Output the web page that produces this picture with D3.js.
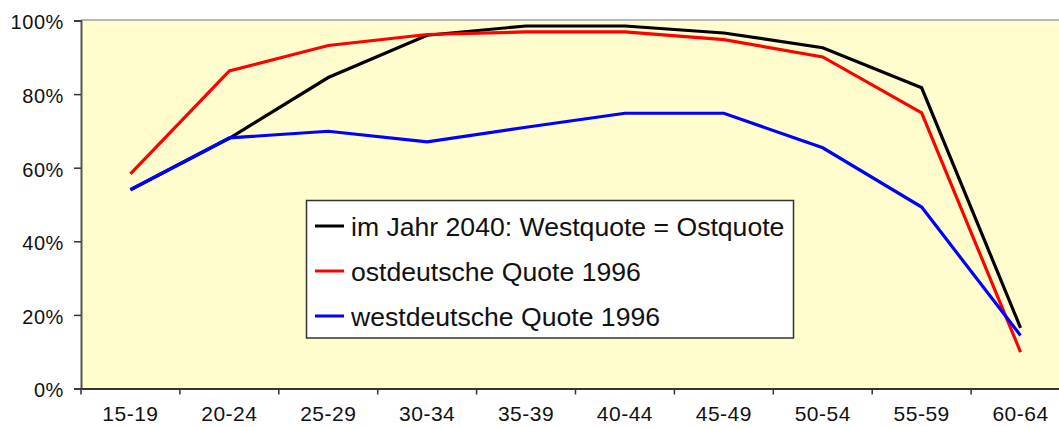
<!DOCTYPE html>
<html><head><meta charset="utf-8">
<script src="https://cdn.jsdelivr.net/npm/d3@7"></script>
<style>html,body{margin:0;padding:0;background:#fff;}svg{display:block;}</style>
</head><body>
<script>
const categories = ["15-19","20-24","25-29","30-34","35-39","40-44","45-49","50-54","55-59","60-64"];
const black2040 = [54, 68, 84.5, 96, 98.5, 98.5, 96.6, 92.6, 81.7, 16.5];
const ostQuote = [58.3, 86.3, 93.2, 96.2, 96.9, 96.9, 94.8, 90.1, 74.9, 9.9];
const westQuote = [54, 68.1, 69.9, 67, 71, 74.8, 74.8, 65.4, 49.3, 14.4];
const yTicks = [0, 20, 40, 60, 80, 100];
const seriesNames = ["im Jahr 2040: Westquote = Ostquote", "ostdeutsche Quote 1996", "westdeutsche Quote 1996"];
const seriesColors = ["#000000", "#ff0000", "#0000ff"];

const W = 1059, H = 427;
const svg = d3.select("body").append("svg").attr("width", W).attr("height", H);
const x = d3.scaleBand().domain(categories).range([81, 1070]).padding(0);
const y = d3.scaleLinear().domain([0, 100]).range([388.5, 20.5]);

// plot area
svg.append("rect").attr("x", 81).attr("y", y(100)).attr("width", 1070 - 81).attr("height", y(0) - y(100))
  .attr("fill", "#fffdcd");
svg.append("line").attr("x1", 81).attr("x2", W).attr("y1", y(100) - 0.5).attr("y2", y(100) - 0.5)
  .attr("stroke", "#a0a0a0").attr("stroke-width", 1.5);

// y axis
const yAxis = svg.append("g").attr("transform", "translate(81,0)")
  .call(d3.axisLeft(y).tickValues(yTicks).tickSize(7).tickPadding(10).tickFormat(d => d + "%"));
yAxis.select(".domain").attr("stroke", "#555").attr("stroke-width", 2);
yAxis.selectAll(".tick line").attr("stroke", "#333").attr("stroke-width", 1.5);
yAxis.selectAll("text").attr("font-family", "Liberation Sans, Arial, sans-serif").attr("font-size", 20)
  .attr("fill", "#111").attr("dy", "0.42em").attr("letter-spacing", "0.6px");

// x axis (labels at band centers, ticks at boundaries)
const xAxis = svg.append("g").attr("transform", `translate(0,${y(0)})`)
  .call(d3.axisBottom(x).tickSize(0).tickPadding(20));
xAxis.select(".domain").attr("stroke", "#333").attr("stroke-width", 2);
xAxis.selectAll("text").attr("font-family", "Liberation Sans, Arial, sans-serif").attr("font-size", 21)
  .attr("fill", "#111").attr("letter-spacing", "0.5px").attr("dy", "0.6em");
xAxis.selectAll(".bnd").data(categories).enter().append("line").attr("class", "bnd")
  .attr("x1", d => x(d)).attr("x2", d => x(d)).attr("y1", 0).attr("y2", 6)
  .attr("stroke", "#333").attr("stroke-width", 1.5);

// lines
const allSeries = [black2040, ostQuote, westQuote];
const line = d3.line().x((d, i) => x(categories[i]) + x.bandwidth() / 2).y(d => y(d));
allSeries.forEach((s, k) => {
  svg.append("path").datum(s).attr("d", line).attr("fill", "none")
    .attr("stroke", seriesColors[k]).attr("stroke-width", 3.2).attr("stroke-linejoin", "miter");
});

// legend
const lg = svg.append("g");
lg.append("rect").attr("x", 306.5).attr("y", 200.5).attr("width", 487).attr("height", 137.5)
  .attr("fill", "#fff").attr("stroke", "#333").attr("stroke-width", 1.5);
const rowsY = [226, 271, 316];
seriesNames.forEach((n, k) => {
  lg.append("line").attr("x1", 315).attr("x2", 344).attr("y1", rowsY[k]).attr("y2", rowsY[k])
    .attr("stroke", seriesColors[k]).attr("stroke-width", 3);
  lg.append("text").attr("x", 351).attr("y", rowsY[k]).attr("dy", "0.36em")
    .attr("font-family", "Liberation Sans, Arial, sans-serif").attr("font-size", 26.6).attr("fill", "#111")
    .text(n);
});
</script>
</body></html>
